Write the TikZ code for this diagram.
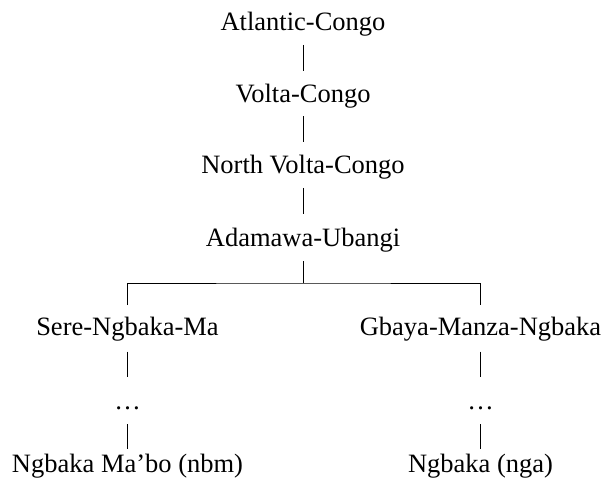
\documentclass[tikz,border=0pt]{standalone}
\usepackage{fontspec}
\setmainfont{Liberation Serif}
\usetikzlibrary{calc}
\begin{document}
\begin{tikzpicture}[x=1pt,y=-1pt,
  lang/.style={anchor=base, inner sep=0pt, font=\fontsize{26.5}{30}\selectfont},
  branch/.style={line width=1pt, draw=black}]
\useasboundingbox (0,0) rectangle (604,486);

% family chain
\node[lang] (ac)  at (303,31)    {Atlantic-Congo};
\node[lang] (vc)  at (303,102.5) {Volta-Congo};
\node[lang] (nvc) at (303,174)   {North Volta-Congo};
\node[lang] (au)  at (303,246)   {Adamawa-Ubangi};

% two subgroups
\node[lang] (snm) at (127.5,335)   {Sere-Ngbaka-Ma};
\node[lang] (gmn) at (480.5,335)   {Gbaya-Manza-Ngbaka};
\node[lang] (d1)  at (127.5,409.5) {…};
\node[lang] (d2)  at (480.5,409.5) {…};
\node[lang] (nbm) at (127.5,472)   {Ngbaka Ma’bo (nbm)};
\node[lang] (nga) at (480.5,472)   {Ngbaka (nga)};

% vertical links of the chain
\draw[branch] ($(ac.base)+(0,14)$)  -- ($(vc.base)+(0,-31.5)$);
\draw[branch] ($(vc.base)+(0,14)$)  -- ($(nvc.base)+(0,-31.5)$);
\draw[branch] ($(nvc.base)+(0,14)$) -- ($(au.base)+(0,-31.5)$);

% fork
\coordinate (fork) at ($(au.base)+(0,37)$);
\draw[branch] ($(au.base)+(0,15)$) -- (fork);
\draw[branch] ($(snm.base)+(0,-30)$) |- (fork) -| ($(gmn.base)+(0,-30)$);

% lower links
\foreach \top/\mid/\bot in {snm/d1/nbm, gmn/d2/nga}{
  \draw[branch] ($(\top.base)+(0,16.7)$) -- ($(\mid.base)+(0,-32.2)$);
  \draw[branch] ($(\mid.base)+(0,14.5)$) -- ($(\bot.base)+(0,-23)$);
}
\end{tikzpicture}
\end{document}
